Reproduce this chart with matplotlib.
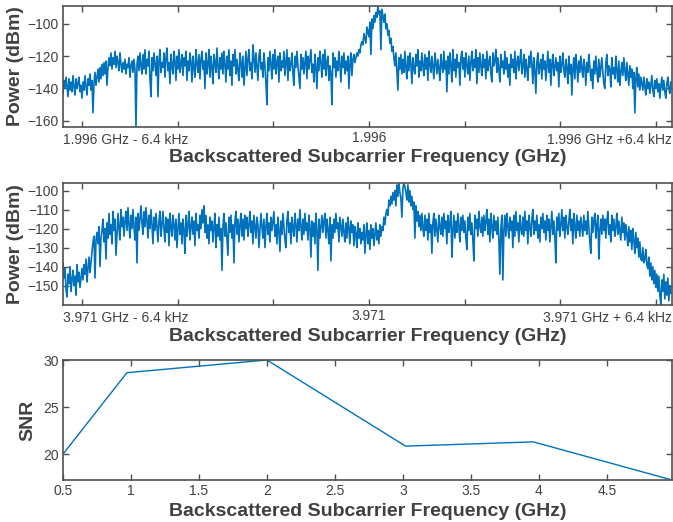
import numpy as np
import matplotlib
matplotlib.use("Agg")
import matplotlib.pyplot as plt

plt.rcParams['font.family'] = ['Liberation Sans', 'DejaVu Sans']

# ---------------- data ----------------
# spectrum 1: centre 1.996 GHz, power in dBm, uniform FFT bins (offset from centre, Hz)
spec1_start_hz = -6835.0
spec1_step_hz = 22.33
spec1_power = [
    -143, -135, -140, -133, -139, -145, -134, -141, -136, -142, -132, -139, -144, -134, -140, -137, -133, -142, -138, -146,
    -136, -141, -132, -139, -144, -134, -138, -131, -141, -135, -155, -137, -130, -138, -133, -128, -136, -127, -134, -125,
    -132, -124, -131, -123, -138, -127, -121, -126, -118, -128, -121, -125, -117, -127, -120, -124, -129, -118, -125, -130,
    -124, -128, -122, -131, -125, -127, -121, -133, -126, -123, -130, -122, -128, -164, -125, -120, -129, -118, -126, -131,
    -119, -128, -116, -131, -122, -126, -117, -134, -145, -121, -129, -118, -125, -132, -120, -145, -123, -116, -130, -124,
    -127, -118, -133, -121, -115, -129, -124, -137, -119, -126, -131, -117, -123, -135, -120, -128, -116, -130, -125, -119,
    -132, -121, -126, -117, -135, -123, -129, -118, -124, -136, -120, -127, -133, -116, -125, -130, -119, -134, -122, -117,
    -128, -123, -140, -118, -131, -125, -116, -133, -120, -127, -137, -119, -124, -130, -115, -126, -134, -121, -128, -118,
    -131, -117, -125, -136, -120, -128, -116, -132, -123, -138, -119, -126, -116, -131, -122, -129, -135, -118, -124, -133,
    -120, -138, -127, -117, -132, -122, -116, -129, -124, -134, -113, -121, -130, -118, -127, -135, -120, -116, -128, -124,
    -133, -118, -126, -137, -150, -121, -129, -117, -125, -134, -119, -128, -116, -131, -124, -120, -136, -118, -129, -123,
    -127, -117, -132, -124, -116, -135, -121, -129, -125, -118, -131, -138, -120, -127, -117, -126, -133, -140, -119, -128,
    -121, -131, -124, -117, -134, -120, -128, -122, -116, -130, -125, -136, -119, -127, -140, -121, -129, -117, -124, -133,
    -119, -128, -116, -132, -124, -120, -135, -126, -131, -150, -118, -127, -121, -133, -123, -129, -117, -125, -136, -120,
    -127, -118, -131, -123, -129, -120, -140, -125, -118, -132, -122, -119, -124, -121, -118, -120, -116, -118, -113, -111,
    -113, -106, -109, -112, -102, -105, -108, -99, -119, -97, -103, -95, -99, -93, -96, -89, -94, -92, -116, -91,
    -95, -99, -94, -103, -100, -107, -104, -112, -109, -117, -114, -121, -126, -118, -130, -141, -121, -128, -119, -131,
    -122, -130, -117, -127, -134, -120, -129, -118, -125, -137, -121, -128, -131, -119, -126, -116, -133, -123, -129, -118,
    -126, -132, -119, -128, -121, -135, -117, -125, -130, -120, -127, -134, -118, -124, -131, -122, -128, -135, -119, -126,
    -130, -117, -128, -123, -142, -120, -131, -118, -126, -136, -116, -129, -122, -133, -119, -127, -124, -138, -121, -117,
    -128, -121, -133, -118, -126, -131, -120, -135, -124, -117, -129, -122, -127, -116, -137, -121, -130, -118, -126, -132,
    -119, -127, -122, -134, -117, -129, -124, -120, -131, -136, -118, -126, -123, -116, -130, -121, -128, -136, -119, -127,
    -123, -131, -117, -128, -121, -133, -125, -138, -119, -127, -122, -130, -117, -134, -124, -120, -129, -123, -116, -131,
    -126, -119, -133, -122, -128, -135, -120, -127, -117, -125, -137, -121, -129, -143, -124, -118, -131, -126, -122, -134,
    -119, -128, -123, -135, -126, -117, -130, -122, -138, -125, -119, -132, -127, -121, -129, -124, -139, -120, -130, -125,
    -118, -129, -133, -122, -127, -137, -120, -131, -125, -144, -128, -121, -134, -119, -126, -136, -123, -130, -120, -128,
    -133, -122, -127, -138, -124, -130, -119, -126, -135, -128, -140, -123, -131, -120, -129, -136, -122, -133, -127, -121,
    -130, -137, -140, -124, -119, -132, -126, -128, -139, -121, -131, -127, -134, -120, -129, -136, -123, -138, -130, -124,
    -132, -121, -129, -135, -124, -131, -138, -126, -133, -128, -140, -130, -155, -134, -127, -139, -131, -141, -133, -137,
    -141, -133, -139, -144, -134, -140, -136, -143, -138, -132, -141, -145, -135, -140, -134, -142, -137, -146, -139, -133,
    -141, -135, -142, -146, -137, -133, -140, -143, -136,
]

# spectrum 2: centre 3.971 GHz
spec2_start_hz = -6835.0
spec2_step_hz = 22.33
spec2_power = [
    -138, -146, -141, -152, -156, -144, -149, -140, -153, -147, -142, -150, -145, -155, -139, -148, -143, -151, -146, -141,
    -147, -139, -144, -136, -148, -141, -135, -143, -138, -132, -127, -124, -146, -126, -122, -128, -119, -140, -125, -121,
    -115, -127, -120, -136, -117, -125, -112, -123, -118, -128, -111, -121, -115, -134, -123, -112, -120, -126, -110, -119,
    -114, -124, -116, -111, -121, -109, -118, -125, -113, -120, -110, -119, -126, -114, -138, -112, -121, -115, -108, -117,
    -123, -111, -119, -109, -116, -125, -113, -120, -110, -118, -128, -114, -121, -112, -119, -127, -116, -111, -124, -118,
    -111, -120, -127, -114, -122, -115, -129, -112, -119, -124, -113, -118, -126, -115, -130, -120, -112, -123, -117, -128,
    -115, -121, -133, -113, -124, -118, -111, -126, -119, -114, -123, -116, -129, -112, -121, -118, -125, -113, -120, -110,
    -117, -108, -122, -113, -125, -118, -128, -114, -121, -116, -127, -119, -112, -130, -118, -124, -114, -126, -120, -142,
    -119, -112, -124, -117, -126, -134, -114, -122, -113, -125, -118, -138, -116, -111, -123, -115, -127, -118, -112, -124,
    -115, -126, -113, -120, -114, -124, -118, -111, -122, -116, -128, -113, -119, -125, -114, -118, -130, -121, -112, -119,
    -125, -115, -130, -119, -112, -123, -117, -127, -114, -121, -116, -111, -124, -118, -128, -114, -121, -132, -116, -123,
    -112, -119, -126, -130, -116, -111, -122, -117, -128, -114, -120, -124, -112, -118, -127, -115, -121, -110, -119, -126,
    -115, -123, -112, -121, -117, -126, -113, -119, -135, -116, -124, -117, -128, -112, -121, -142, -115, -125, -119, -113,
    -122, -116, -112, -125, -115, -121, -128, -114, -137, -118, -125, -115, -122, -112, -120, -117, -127, -114, -119, -124,
    -115, -122, -127, -117, -125, -114, -120, -128, -116, -122, -118, -129, -119, -123, -130, -117, -125, -120, -128, -122,
    -126, -118, -133, -123, -117, -128, -121, -131, -118, -125, -120, -129, -123, -117, -126, -121, -128, -118, -124, -119,
    -121, -114, -118, -112, -110, -113, -105, -108, -103, -107, -101, -105, -100, -108, -97, -103, -96, -101, -104, -114,
    -99, -96, -98, -101, -105, -97, -106, -100, -108, -103, -110, -106, -125, -108, -116, -111, -119, -113, -121, -112,
    -120, -124, -113, -121, -115, -126, -112, -122, -118, -133, -117, -112, -124, -115, -121, -127, -113, -119, -123, -114,
    -124, -112, -120, -116, -128, -113, -122, -117, -111, -135, -121, -113, -125, -116, -122, -112, -119, -127, -114, -121,
    -113, -122, -116, -125, -131, -114, -121, -112, -123, -117, -126, -137, -113, -120, -115, -124, -111, -119, -122, -114,
    -124, -113, -121, -116, -110, -123, -115, -127, -112, -119, -125, -113, -121, -116, -123, -114, -126, -144, -120, -113,
    -147, -121, -113, -124, -112, -119, -125, -114, -121, -116, -130, -113, -124, -111, -121, -117, -127, -113, -120, -123,
    -114, -124, -111, -121, -116, -128, -113, -119, -124, -115, -110, -123, -116, -121, -113, -125, -118, -127, -114, -120,
    -112, -122, -116, -126, -113, -121, -115, -127, -119, -111, -123, -116, -124, -138, -114, -121, -112, -124, -118, -110,
    -121, -114, -125, -113, -119, -123, -116, -110, -121, -115, -128, -112, -119, -125, -113, -121, -116, -124, -114, -119,
    -124, -113, -121, -116, -123, -111, -119, -127, -133, -114, -122, -116, -112, -125, -118, -113, -136, -121, -115, -123,
    -113, -121, -115, -125, -116, -111, -123, -118, -127, -113, -121, -115, -124, -119, -112, -123, -116, -121, -126, -114,
    -122, -117, -126, -118, -123, -129, -119, -127, -121, -131, -120, -126, -133, -122, -130, -125, -135, -127, -136, -137,
    -130, -138, -136, -131, -139, -141, -135, -145, -138, -147, -140, -149, -142, -151, -144, -153, -145, -155, -160, -147,
    -153, -144, -157, -148, -155, -146, -158, -150, -154,
]

# SNR vs subcarrier frequency
snr_freq_ghz = [0.5, 0.97, 2.0, 3.02, 3.96, 4.98]
snr_db = [20.0, 28.65, 30.0, 20.85, 21.3, 17.25]

spec1_center_label = "1.996"
spec1_left_label = "1.996 GHz - 6.4 kHz"
spec1_right_label = "1.996 GHz +6.4 kHz"
spec2_center_label = "3.971"
spec2_left_label = "3.971 GHz - 6.4 kHz"
spec2_right_label = "3.971 GHz + 6.4 kHz"
snr_xticks = [0.5, 1, 1.5, 2, 2.5, 3, 3.5, 4, 4.5]
snr_xticklabels = ["0.5", "1", "1.5", "2", "2.5", "3", "3.5", "4", "4.5"]

# ---------------- style ----------------
LINE = '#0072BD'
AX = '#505050'
TXT = '#404040'
W, H = 673, 522
fig = plt.figure(figsize=(W / 100, H / 100), dpi=100)

left = 63 / W
width = (672 - 63) / W


def make_ax(top_px, bot_px):
    ax = fig.add_axes([left, 1 - bot_px / H, width, (bot_px - top_px) / H])
    for s in ax.spines.values():
        s.set_color(AX)
        s.set_linewidth(1.2)
    ax.tick_params(direction='in', top=True, right=True, length=4.5, width=1.0,
                   color=AX, labelcolor=TXT, labelsize=10, pad=3)
    return ax


xlabel = "Backscattered Subcarrier Frequency (GHz)"
spec_ticks = [-6400, -4266.7, -2133.3, 0, 2133.3, 4266.7, 6400]


def spectrum(ax, start, step, power, yticks, ylim, c_lab, l_lab, r_lab):
    f = start + step * np.arange(len(power))
    ax.plot(f, power, color=LINE, lw=1.2)
    ax.set_xlim(-6835, 6768)
    ax.set_ylim(*ylim)
    ax.set_yticks(yticks)
    ax.set_xticks(spec_ticks)
    ax.set_xticklabels(['', '', '', c_lab, '', '', ''])
    ax.annotate(l_lab, xy=(0, 0), xycoords='axes fraction', xytext=(0, -4.5),
                textcoords='offset points', ha='left', va='top', fontsize=10, color=TXT)
    ax.annotate(r_lab, xy=(1, 0), xycoords='axes fraction', xytext=(0, -4.5),
                textcoords='offset points', ha='right', va='top', fontsize=10, color=TXT)
    ax.set_xlabel(xlabel, fontsize=14, fontweight='bold', color=TXT, va='baseline')
    ax.xaxis.set_label_coords(0.5, -0.291)
    ax.set_ylabel("Power (dBm)", fontsize=14, fontweight='bold', color=TXT, va='center')
    ax.yaxis.set_label_coords((16 - 63) / 609, 0.5)


ax1 = make_ax(6, 127)
spectrum(ax1, spec1_start_hz, spec1_step_hz, spec1_power, [-160, -140, -120, -100],
         (-163.8, -89), spec1_center_label, spec1_left_label, spec1_right_label)

ax2 = make_ax(183, 305)
spectrum(ax2, spec2_start_hz, spec2_step_hz, spec2_power, [-150, -140, -130, -120, -110, -100],
         (-160.2, -96), spec2_center_label, spec2_left_label, spec2_right_label)

ax3 = make_ax(360, 480)
ax3.plot(snr_freq_ghz, snr_db, color=LINE, lw=1.0)
ax3.set_xlim(0.5, 4.98)
ax3.set_ylim(17.25, 30)
ax3.set_yticks([20, 25, 30])
ax3.set_xticks(snr_xticks)
ax3.set_xticklabels(snr_xticklabels)
ax3.set_xlabel(xlabel, fontsize=14, fontweight='bold', color=TXT, va='baseline')
ax3.xaxis.set_label_coords(0.5, -0.2975)
ax3.set_ylabel("SNR", fontsize=14, fontweight='bold', color=TXT, va='center')
ax3.yaxis.set_label_coords((27.5 - 63) / 609, 0.5)

fig.savefig("out.png", dpi=100)
